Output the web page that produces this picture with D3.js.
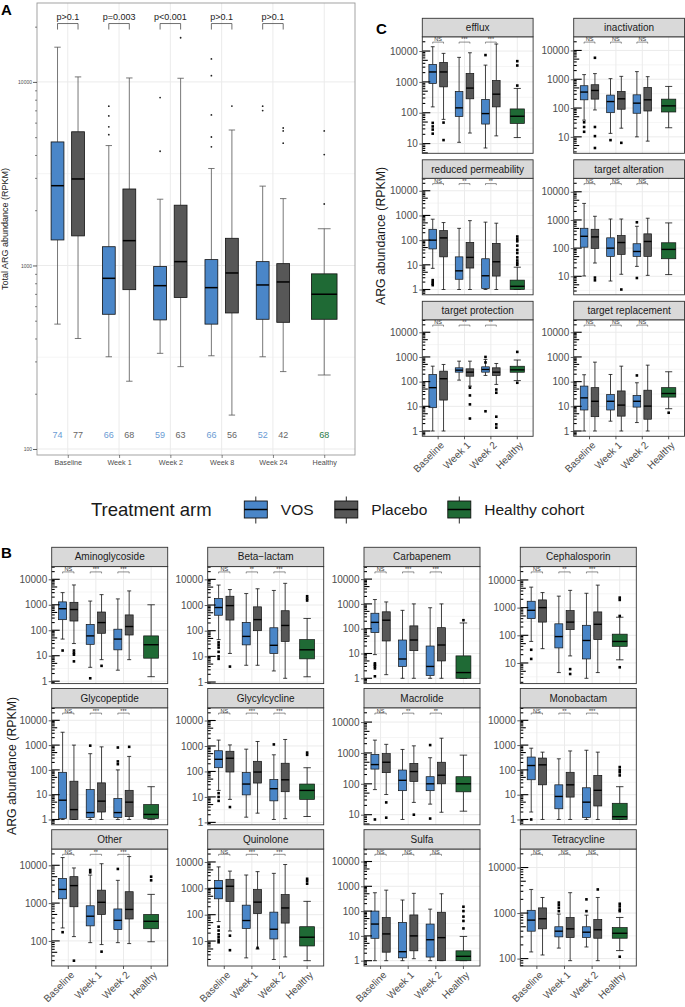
<!DOCTYPE html>
<html><head><meta charset="utf-8">
<script src="https://cdn.jsdelivr.net/npm/d3@7"></script>
<style>
body{margin:0;background:#fff;}
svg{display:block;font-family:"Liberation Sans",Arial,Helvetica,sans-serif;}
</style>
</head><body>
<svg id="c" width="685" height="1007"></svg>
<script>
// ---------------- DATA ----------------
// Panel A: boxes are [lower whisker, Q1, median, Q3, upper whisker] (RPKM)
const timepointsA = ["Baseline","Week 1","Week 2","Week 8","Week 24","Healthy"];
const vosA = [[479,1377,2720,4710,15460],[318,542,851,1265,4500],[332,505,776,986,2296],[322,479,757,1076,3375],[318,509,783,1049,2705]];
const placeboA = [[400,1449,2960,5350,10650],[234,738,1365,2610,10510],[281,669,1049,2130,10470],[153,551,910,1406,5470],[264,490,813,1023,2313]];
const healthyA = [253,509,697,900,1585];
const vosOutA = [[],[7380,6530,5690,5160],[8220,4190],[13340,10820,6610,5010,4430],[7380,6980]];
const placeboOutA = [[],[],[17400],[7390],[5610,5410,4640]];
const healthyOutA = [5410,4020,2162];
const nVOS = [74,66,59,66,52];
const nPlacebo = [77,68,63,56,42];
const nHealthy = 68;
const pValuesA = ["p>0.1","p=0.003","p<0.001","p>0.1","p>0.1"];

// Facet panels: 7 boxes per facet in order
// Baseline VOS, Baseline Placebo, Week1 VOS, Week1 Placebo, Week2 VOS, Week2 Placebo, Healthy
const timepointsF = ["Baseline","Week 1","Week 2","Healthy"];

// Panel C (resistance mechanisms)
const efflux = [[155,890,2100,3690,13800],[61,690,2100,4270,8400],[11,76,144,490,6240],[22,283,630,1880,8800],[7.2,43,94,270,3500],[17.8,155,400,1110,16900],[15.7,45,77,133,614]];
const effluxOut = [[47,36,28.5,21],[48,13],[],[],[7400],[],[4700,3400,760]];
const inactivation = [[38,193,359,596,1450],[86,204,408,645,1570],[13.2,69,168,282,1050],[20,91,209,377,1260],[10,66,148,288,1840],[7.1,79,193,520,1230],[20.7,73,119,204,563]];
const inactivationOut = [[32,22,15],[5560,22,10.6,4.1],[7.7],[6.2],[],[],[]];
const reducedPerm = [[7.2,44,100,275,705],[1,21,123,243,515],[1,2.6,5.7,21,300],[1,7.4,20,81,615],[1,1.1,3.6,17.6,535],[1,3.5,13.3,74,485],[1,1,1.35,2.4,8]];
const reducedPermOut = [[2.4,2,1.7,1.5],[],[],[],[],[],[140,110,90,60,40,30,20,15,12,10]];
const targetAlt = [[10.3,108,263,507,3860],[29.6,98,250,467,1350],[6.8,51,100,232,1080],[11.8,60,158,280,1080],[22.5,51,76,143,596],[10.8,51,172,321,1150],[11.5,42,90,155,785]];
const targetAltOut = [[],[9,7.2],[],[3.4],[826,8.7],[],[]];
const targetProt = [[1,8.8,57,195,423],[1,17.9,131,266,495],[115,242,292,363,675],[66,166,242,330,675],[178,242,311,398,790],[77,178,242,363,543],[110,240,300,420,750]];
const targetProtOut = [[],[],[],[57,27.6,12,3.2],[1000,600,6.3],[48,35.5,3.8,1.86,1.37],[1600,90]];
const targetRepl = [[1,7.1,22,66,190],[1,3.8,16,57,615],[2.5,7.1,16,30,195],[1,4,11.2,42,423],[2.2,9.3,16,27.6,90],[1,3,10.2,45,465],[8,23.6,33,57,251]];
const targetReplOut = [[],[],[],[],[178],[],[5.5]];

const namesC = ["efflux","inactivation","reduced permeability","target alteration","target protection","target replacement"];
const statsC = [efflux, inactivation, reducedPerm, targetAlt, targetProt, targetRepl];
const outsC = [effluxOut, inactivationOut, reducedPermOut, targetAltOut, targetProtOut, targetReplOut];
const sigC = [["NS","***","***"],["NS","NS","NS"],["NS","**","**"],["NS","NS","NS"],["NS","**","**"],["NS","NS","NS"]];

// Panel B (drug classes)
const aminoglycoside = [[45,260,700,1300,3000],[30,230,650,1250,6000],[3.5,28,60,170,1400],[7,76,200,520,2500],[2.7,17,45,110,1700],[7,65,140,400,3500],[1.5,8,27,60,1000]];
const aminoglycosideOut = [[16],[16,13,11,6],[1.3],[4],[],[],[]];
const betaLactam = [[45,400,800,1800,6000],[13,260,950,2200,4000],[4.5,28,60,210,2800],[4.5,100,270,850,4300],[2.7,13,27,130,3700],[1.4,38,160,600,7000],[1.6,8,18,45,300]];
const betaLactamOut = [[35,28,22,15,10,8],[4],[],[],[],[],[2200,1800,1500]];
const carbapenem = [[9,70,180,420,1500],[1.4,32,220,480,1200],[1,3,6,35,550],[1,13,35,130,1000],[1,1.3,3,20,700],[1,5,22,110,1000],[1,1,1.7,8,170]];
const carbapenemOut = [[4,3.5,3,2.5,1.2],[],[],[],[],[],[220]];
const cephalosporin = [[60,400,800,1700,5500],[33,300,1000,1900,3500],[4.5,35,90,260,2600],[18,160,300,780,4200],[2.8,14,65,230,3300],[4.5,70,250,700,6500],[13,40,60,110,450]];
const cephalosporinOut = [[30,14],[],[],[6,4],[],[],[2300,1900,500,7]];
const glycopeptide = [[1,1.1,6,80,3300],[1,1,2.5,35,1000],[1,1.2,1.9,16,450],[1,2,5.5,30,850],[1,1.2,1.9,7,100],[1,1.3,5,15,350],[1,1.1,1.6,4,21]];
const glycopeptideOut = [[],[],[950],[],[800,220,170],[850],[]];
const glycylcycline = [[18,140,300,650,1700],[8,95,330,620,1100],[1.6,12,32,90,750],[2.3,35,95,250,1500],[1.3,7,21,48,450],[1.4,16,47,210,1800],[1.7,8,18,32,140]];
const glycylcyclineOut = [[14,10,7],[4],[],[],[1150],[],[550,450]];
const macrolide = [[65,300,420,900,2600],[45,230,500,950,1900],[7,60,130,280,1300],[25,120,250,460,1700],[22,60,100,170,700],[12,100,190,500,3000],[13,55,100,170,850]];
const macrolideOut = [[7],[25,8],[],[10],[1800,7.5],[],[]];
const monobactam = [[2,40,150,330,750],[1,25,160,300,520],[1,2.7,8.5,25,280],[1,8,25,80,580],[1,1.2,5,19,620],[1,3.5,15,60,520],[1,1,1.3,4.5,21]];
const monobactamOut = [[1],[],[],[],[],[],[130,100,80,60]];
const otherClass = [[220,1300,2300,4500,16000],[130,800,2900,5000,8500],[90,250,450,850,5500],[80,500,1050,2200,11000],[90,200,350,700,4000],[85,380,680,2000,17000],[95,210,330,500,1700]];
const otherClassOut = [[170],[30],[7500,6500],[52],[8000],[],[5000,4000]];
const quinolone = [[55,400,1000,2000,6500],[24,320,1200,2200,4500],[2.3,30,60,230,3200],[5,110,300,900,4300],[2,12,28,125,3700],[2.5,48,180,580,8000],[1.8,6.5,14,35,320]];
const quinoloneOut = [[35,25,18,14,11,9],[16,4.5],[],[5.5],[],[],[2300,1900,1500]];
const sulfa = [[1,8,30,100,550],[1,2.2,12,55,700],[1,1.3,2.3,35,280],[1.2,2.5,10,70,520],[1,1.4,7,30,120],[1,1,8.5,90,500],[1,1,1.5,2.5,9.5]];
const sulfaOut = [[],[],[],[],[],[],[150,100,60,40,20]];
const tetracycline = [[140,400,700,1150,3300],[120,450,750,1300,2200],[170,300,400,500,950],[90,290,450,800,2800],[180,290,380,500,900],[90,280,430,720,2200],[150,280,360,480,800]];
const tetracyclineOut = [[],[],[1700,1500,1300,1100],[],[2000,1100],[3300],[1600,1400,1200,1100,110]];

const namesB = ["Aminoglycoside","Beta\u2212lactam","Carbapenem","Cephalosporin","Glycopeptide","Glycylcycline","Macrolide","Monobactam","Other","Quinolone","Sulfa","Tetracycline"];
const statsB = [aminoglycoside, betaLactam, carbapenem, cephalosporin, glycopeptide, glycylcycline, macrolide, monobactam, otherClass, quinolone, sulfa, tetracycline];
const outsB = [aminoglycosideOut, betaLactamOut, carbapenemOut, cephalosporinOut, glycopeptideOut, glycylcyclineOut, macrolideOut, monobactamOut, otherClassOut, quinoloneOut, sulfaOut, tetracyclineOut];
const sigB = [["NS","***","***"],["NS","**","***"],["NS","***","***"],["NS","**","***"],["NS","***","***"],["NS","***","***"],["NS","**","**"],["NS","**","***"],["NS","**","***"],["NS","***","***"],["NS","NS","NS"],["NS","NS","NS"]];

const legendLabels = ["VOS","Placebo","Healthy cohort"];

// annotation heights (data units)
const SIG_Y = 19500;      // facets: significance brackets
const A_BRACKET = 20800;  // panel A: p-value brackets
const A_COUNT = 120;      // panel A: sample-size labels

// ---------------- STYLE ----------------
const VOS_FILL = "#4a86c8", PLA_FILL = "#575757", HEA_FILL = "#1f6a35";
const GRID = "#ebebeb";
const svg = d3.select("#c");

function expandLog(lo, hi) {
  const l0 = Math.log10(lo), l1 = Math.log10(hi), e = (l1 - l0) * 0.05;
  return [Math.pow(10, l0 - e), Math.pow(10, l1 + e)];
}

function drawBox(g, y, cx, bw, s, fill, o) {
  const [lo, q1, md, q3, hi] = s;
  const cw = bw * o.cap;
  const wl = g.append("g").attr("stroke", o.wcol).attr("stroke-width", o.wlw);
  wl.append("line").attr("x1", cx).attr("x2", cx).attr("y1", y(hi)).attr("y2", y(q3));
  wl.append("line").attr("x1", cx).attr("x2", cx).attr("y1", y(q1)).attr("y2", y(lo));
  wl.append("line").attr("x1", cx - cw / 2).attr("x2", cx + cw / 2).attr("y1", y(hi)).attr("y2", y(hi));
  wl.append("line").attr("x1", cx - cw / 2).attr("x2", cx + cw / 2).attr("y1", y(lo)).attr("y2", y(lo));
  g.append("rect").attr("x", cx - bw / 2).attr("y", y(q3)).attr("width", bw)
    .attr("height", Math.max(0.5, y(q1) - y(q3))).attr("fill", fill)
    .attr("stroke", "#111").attr("stroke-width", o.blw);
  g.append("line").attr("x1", cx - bw / 2).attr("x2", cx + bw / 2).attr("y1", y(md)).attr("y2", y(md))
    .attr("stroke", "#000").attr("stroke-width", o.mlw);
}

// ---------------- PANEL A ----------------
(function panelA() {
  const x0 = 37, x1 = 355, y0 = 3, y1 = 455;
  const g = svg.append("g");
  const y = d3.scaleLog().domain(expandLog(A_COUNT, A_BRACKET)).range([y1, y0]);
  const x = d3.scalePoint().domain(timepointsA).range([x0, x1]).padding(0.6);
  const u = x.step();
  const majors = [100, 1000, 10000];
  const minors = [Math.pow(10, 2.5), Math.pow(10, 3.5)];
  g.append("rect").attr("x", x0).attr("y", y0).attr("width", x1 - x0).attr("height", y1 - y0).attr("fill", "#fff");
  g.selectAll(null).data(minors).join("line").attr("x1", x0).attr("x2", x1)
    .attr("y1", d => y(d)).attr("y2", d => y(d)).attr("stroke", GRID).attr("stroke-width", 0.5);
  g.selectAll(null).data(majors).join("line").attr("x1", x0).attr("x2", x1)
    .attr("y1", d => y(d)).attr("y2", d => y(d)).attr("stroke", GRID).attr("stroke-width", 1);
  g.selectAll(null).data(timepointsA).join("line").attr("x1", d => x(d)).attr("x2", d => x(d))
    .attr("y1", y0).attr("y2", y1).attr("stroke", GRID).attr("stroke-width", 1);

  const o = { cap: 0.5, wcol: "#555", wlw: 0.8, blw: 0.8, mlw: 1.5 };
  const bw = 0.25 * u, dodge = 0.2 * u;
  vosA.forEach((s, i) => {
    const cx = x(timepointsA[i]) - dodge;
    drawBox(g, y, cx, bw, s, VOS_FILL, o);
    g.selectAll(null).data(vosOutA[i]).join("circle").attr("cx", cx).attr("cy", d => y(d)).attr("r", 0.9).attr("fill", "#222");
  });
  placeboA.forEach((s, i) => {
    const cx = x(timepointsA[i]) + dodge;
    drawBox(g, y, cx, bw, s, PLA_FILL, o);
    g.selectAll(null).data(placeboOutA[i]).join("circle").attr("cx", cx).attr("cy", d => y(d)).attr("r", 0.9).attr("fill", "#222");
  });
  const hx = x("Healthy");
  drawBox(g, y, hx, 0.5 * u, healthyA, HEA_FILL, o);
  g.selectAll(null).data(healthyOutA).join("circle").attr("cx", hx).attr("cy", d => y(d)).attr("r", 0.9).attr("fill", "#222");

  // p-value brackets
  pValuesA.forEach((p, i) => {
    const a = x(timepointsA[i]) - dodge, b = x(timepointsA[i]) + dodge, yy = y(A_BRACKET);
    g.append("path").attr("d", `M${a},${yy + 6}V${yy}H${b}V${yy + 6}`).attr("fill", "none").attr("stroke", "#333").attr("stroke-width", 0.7);
    g.append("text").attr("x", x(timepointsA[i])).attr("y", yy - 3.7).attr("text-anchor", "middle")
      .attr("font-size", 9).attr("fill", "#222").text(p);
  });
  // counts
  const cy = y(A_COUNT);
  nVOS.forEach((n, i) => g.append("text").attr("x", x(timepointsA[i]) - dodge).attr("y", cy).attr("dy", "0.35em")
    .attr("text-anchor", "middle").attr("font-size", 9).attr("fill", "#6a9bd3").text(n));
  nPlacebo.forEach((n, i) => g.append("text").attr("x", x(timepointsA[i]) + dodge).attr("y", cy).attr("dy", "0.35em")
    .attr("text-anchor", "middle").attr("font-size", 9).attr("fill", "#666").text(n));
  g.append("text").attr("x", hx).attr("y", cy).attr("dy", "0.35em").attr("text-anchor", "middle")
    .attr("font-size", 9).attr("fill", "#2b7a45").text(nHealthy);

  g.append("rect").attr("x", x0).attr("y", y0).attr("width", x1 - x0).attr("height", y1 - y0)
    .attr("fill", "none").attr("stroke", "#999").attr("stroke-width", 0.9);

  // axes
  const minorTicks = [];
  [100, 1000, 10000].forEach(b => d3.range(2, 10).forEach(m => { const v = m * b; if (v < y.domain()[1]) minorTicks.push(v); }));
  const ay = g.append("g").attr("transform", `translate(${x0},0)`)
    .call(d3.axisLeft(y).tickValues(majors).tickFormat(d3.format("d")).tickSize(4).tickPadding(1));
  ay.select(".domain").remove();
  ay.selectAll("text").attr("font-size", 5).attr("fill", "#4d4d4d").attr("font-family", null);
  ay.selectAll("line").attr("stroke", "#333").attr("stroke-width", 0.8);
  const am = g.append("g").attr("transform", `translate(${x0},0)`)
    .call(d3.axisLeft(y).tickValues(minorTicks).tickFormat("").tickSize(2));
  am.select(".domain").remove();
  am.selectAll("line").attr("stroke", "#333").attr("stroke-width", 0.6);
  const ax = g.append("g").attr("transform", `translate(0,${y1})`)
    .call(d3.axisBottom(x).tickSize(3).tickPadding(2));
  ax.select(".domain").remove();
  ax.selectAll("text").attr("font-size", 7.2).attr("fill", "#4d4d4d").attr("font-family", null);
  ax.selectAll("line").attr("stroke", "#333").attr("stroke-width", 0.6);

  g.append("text").attr("transform", `translate(8,${(y0 + y1) / 2}) rotate(-90)`).attr("text-anchor", "middle")
    .attr("font-size", 9).attr("fill", "#222").text("Total ARG abundance (RPKM)");
  svg.append("text").attr("x", 1).attr("y", 15).attr("font-size", 15).attr("font-weight", "bold").text("A");
})();

// ---------------- FACETS ----------------
function drawFacet(x0, y0, w, stripH, h, title, boxes, outs, sig, showX) {
  const g = svg.append("g");
  const pTop = y0 + stripH, pBot = pTop + h;
  const allVals = boxes.flat().concat(outs.flat());
  const dom = expandLog(d3.min(allVals), SIG_Y);
  const y = d3.scaleLog().domain(dom).range([pBot, pTop]);
  const x = d3.scalePoint().domain(timepointsF).range([x0, x0 + w]).padding(0.6);
  const u = x.step();
  const l0 = Math.log10(dom[0]), l1 = Math.log10(dom[1]);
  const majors = d3.range(Math.ceil(l0), Math.floor(l1) + 1).map(k => Math.pow(10, k));
  const minors = d3.range(Math.floor(l0) - 1, Math.ceil(l1) + 1).map(k => Math.pow(10, k + 0.5)).filter(v => v > dom[0] && v < dom[1]);

  g.append("rect").attr("x", x0).attr("y", pTop).attr("width", w).attr("height", h).attr("fill", "#fff");
  g.selectAll(null).data(minors).join("line").attr("x1", x0).attr("x2", x0 + w)
    .attr("y1", d => y(d)).attr("y2", d => y(d)).attr("stroke", GRID).attr("stroke-width", 0.5);
  g.selectAll(null).data(majors).join("line").attr("x1", x0).attr("x2", x0 + w)
    .attr("y1", d => y(d)).attr("y2", d => y(d)).attr("stroke", GRID).attr("stroke-width", 1);
  g.selectAll(null).data(timepointsF).join("line").attr("x1", d => x(d)).attr("x2", d => x(d))
    .attr("y1", pTop).attr("y2", pBot).attr("stroke", GRID).attr("stroke-width", 1);

  const o = { cap: 0.5, wcol: "#111", wlw: 0.8, blw: 0.7, mlw: 1.4 };
  boxes.forEach((s, i) => {
    let cx, bw, fill;
    if (i < 6) {
      const c = x(timepointsF[Math.floor(i / 2)]);
      cx = c + (i % 2 === 0 ? -0.205 : 0.205) * u;
      bw = 0.29 * u; fill = i % 2 === 0 ? VOS_FILL : PLA_FILL;
    } else { cx = x("Healthy"); bw = 0.54 * u; fill = HEA_FILL; }
    drawBox(g, y, cx, bw, s, fill, o);
    g.selectAll(null).data(outs[i]).join("rect").attr("x", cx - 1.3).attr("y", d => y(d) - 1.3)
      .attr("width", 2.6).attr("height", 2.6).attr("fill", "#000");
  });

  // significance brackets
  sig.forEach((t, i) => {
    const c = x(timepointsF[i]), a = c - 0.205 * u, b = c + 0.205 * u, yy = y(SIG_Y);
    g.append("path").attr("d", `M${a},${yy + 1.5}V${yy}H${b}V${yy + 1.5}`).attr("fill", "none")
      .attr("stroke", "#444").attr("stroke-width", 0.6);
    g.append("text").attr("x", c).attr("y", yy - 0.6).attr("text-anchor", "middle")
      .attr("font-size", 5.5).attr("fill", "#333").text(t);
  });

  // log ticks inside the panel
  const lt = [];
  d3.range(Math.floor(l0), Math.ceil(l1) + 1).forEach(k => d3.range(1, 10).forEach(m => {
    const v = m * Math.pow(10, k);
    if (v >= dom[0] && v <= dom[1]) lt.push([v, m]);
  }));
  g.selectAll(null).data(lt).join("line").attr("x1", x0).attr("x2", d => x0 + (d[1] === 1 ? 8 : d[1] === 5 ? 5.5 : 3))
    .attr("y1", d => y(d[0])).attr("y2", d => y(d[0])).attr("stroke", "#000").attr("stroke-width", 1.1);

  g.append("rect").attr("x", x0).attr("y", pTop).attr("width", w).attr("height", h)
    .attr("fill", "none").attr("stroke", "#333").attr("stroke-width", 0.9);
  // strip
  g.append("rect").attr("x", x0).attr("y", y0).attr("width", w).attr("height", stripH)
    .attr("fill", "#d9d9d9").attr("stroke", "#333").attr("stroke-width", 0.9);
  g.append("text").attr("x", x0 + w / 2).attr("y", y0 + stripH / 2).attr("dy", "0.35em")
    .attr("text-anchor", "middle").attr("font-size", 10).attr("fill", "#1a1a1a").text(title);

  // y axis
  const ay = g.append("g").attr("transform", `translate(${x0},0)`)
    .call(d3.axisLeft(y).tickValues(majors).tickFormat(d3.format("d")).tickSize(3).tickPadding(1.5));
  ay.select(".domain").remove();
  ay.selectAll("text").attr("font-size", 10).attr("fill", "#4d4d4d").attr("font-family", null);
  ay.selectAll("line").attr("stroke", "#333").attr("stroke-width", 0.8);

  if (showX) {
    g.selectAll(null).data(timepointsF).join("line").attr("x1", d => x(d)).attr("x2", d => x(d))
      .attr("y1", pBot).attr("y2", pBot + 3).attr("stroke", "#333").attr("stroke-width", 0.8);
    g.selectAll(null).data(timepointsF).join("text")
      .attr("transform", d => `translate(${x(d) + 1.5},${pBot + 4.5}) rotate(-45)`)
      .attr("text-anchor", "end").attr("dy", "0.72em").attr("font-size", 10).attr("fill", "#4d4d4d").text(d => d);
  }
}

// Panel C layout
namesC.forEach((nm, i) => {
  const col = i % 2, row = Math.floor(i / 2);
  const x0 = [422.3, 573.7][col];
  const y0 = [18.3, 159.8, 301.3][row];
  drawFacet(x0, y0, 110.8, 18.5, 116.5, nm, statsC[i], outsC[i], sigC[i], row === 2);
});
svg.append("text").attr("transform", "translate(385,236) rotate(-90)").attr("text-anchor", "middle")
  .attr("font-size", 12.3).attr("fill", "#1a1a1a").text("ARG abundance (RPKM)");
svg.append("text").attr("x", 376).attr("y", 33.5).attr("font-size", 15).attr("font-weight", "bold").text("C");

// Panel B layout
namesB.forEach((nm, i) => {
  const col = i % 4, row = Math.floor(i / 4);
  const x0 = [51.7, 207.7, 364, 520.3][col];
  const y0 = [547.3, 688.5, 829.7][row];
  drawFacet(x0, y0, 116, 19.3, 117, nm, statsB[i], outsB[i], sigB[i], row === 2);
});
svg.append("text").attr("transform", "translate(16,766) rotate(-90)").attr("text-anchor", "middle")
  .attr("font-size", 12.3).attr("fill", "#1a1a1a").text("ARG abundance (RPKM)");
svg.append("text").attr("x", 1).attr("y", 558).attr("font-size", 15).attr("font-weight", "bold").text("B");

// ---------------- LEGEND ----------------
(function legend() {
  const g = svg.append("g");
  const cy = 509.5;
  g.append("text").attr("x", 91).attr("y", cy).attr("dy", "0.35em").attr("font-size", 18.5)
    .attr("fill", "#1a1a1a").text("Treatment arm");
  const keyX = [244.3, 334.8, 447.8];
  const fills = [VOS_FILL, PLA_FILL, HEA_FILL];
  legendLabels.forEach((lab, i) => {
    const kx = keyX[i], cx = kx + 11.5;
    g.append("line").attr("x1", cx).attr("x2", cx).attr("y1", cy - 13).attr("y2", cy + 14).attr("stroke", "#111").attr("stroke-width", 0.9);
    g.append("rect").attr("x", kx).attr("y", cy - 8.5).attr("width", 23).attr("height", 17)
      .attr("fill", fills[i]).attr("stroke", "#111").attr("stroke-width", 0.9);
    g.append("line").attr("x1", kx).attr("x2", kx + 23).attr("y1", cy).attr("y2", cy).attr("stroke", "#000").attr("stroke-width", 1.5);
    g.append("text").attr("x", kx + 36.5).attr("y", cy).attr("dy", "0.35em").attr("font-size", 15.5)
      .attr("fill", "#1a1a1a").text(lab);
  });
})();
</script>
</body></html>
